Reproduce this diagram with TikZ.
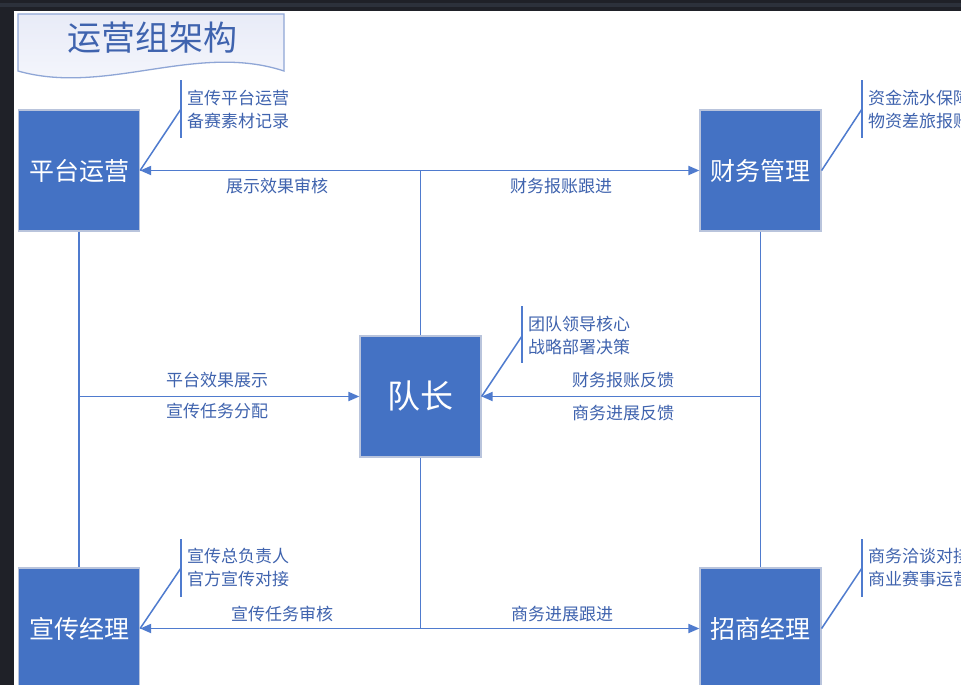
\documentclass[tikz,border=0pt]{standalone}
\usepackage{fontspec}
\newfontfamily\cjk{Noto Sans CJK SC}
\usetikzlibrary{arrows.meta}
\definecolor{boxblue}{HTML}{4472C4}
\definecolor{lineblue}{HTML}{4F7BCE}
\definecolor{txtblue}{HTML}{3F63AE}
\definecolor{boxedge}{HTML}{B9C4DC}
\definecolor{darkbg}{HTML}{1F2128}
\definecolor{darkline}{HTML}{2C313B}
\definecolor{bannertop}{HTML}{E8EBF7}
\definecolor{bannerbot}{HTML}{F7F8FD}
\definecolor{banneredge}{HTML}{8FA6D6}
\begin{document}
\begin{tikzpicture}[x=1pt,y=-1pt,
  rolebox/.style={draw=boxedge, line width=1.2pt, fill=boxblue, minimum width=121pt, minimum height=121pt, inner sep=0pt, text=white, font=\cjk\fontsize{25}{29}\selectfont},
  link/.style={draw=lineblue, line width=1.8pt},
  arrowlink/.style={link, -{Triangle[length=11pt,width=9pt]}},
  flowlabel/.style={text=txtblue, font=\cjk\fontsize{17}{20}\selectfont, inner sep=0pt},
  notetext/.style={text=txtblue, font=\cjk\fontsize{17}{23}\selectfont, align=left, anchor=west, inner sep=0pt},
  callout/.style={draw=lineblue, line width=1.5pt}]
\useasboundingbox (0,0) rectangle (961,685);
\clip (0,0) rectangle (961,685);
% screenshot frame
\fill[darkbg] (0,0) rectangle (961,685);
\fill[darkline] (0,3) rectangle (961,7);
\fill[white] (14,11) rectangle (961,685);
% title banner
\path[draw=banneredge, line width=1.3pt, top color=bannertop, bottom color=bannerbot]
  (18,14) -- (284,14) -- (284,71) .. controls (196,42) and (106,96) .. (18,71) -- cycle;
\node[text=txtblue, font=\cjk\fontsize{34}{40}\selectfont, inner sep=0pt] (title) at (152,38) {运营组架构};
% role boxes
\node[rolebox] (plat) at (79,170.5) {平台运营};
\node[rolebox] (fin) at (760.5,170.5) {财务管理};
\node[rolebox, font=\cjk\fontsize{33}{37}\selectfont] (cap) at (420.5,396.5) {队长};
\node[rolebox] (prop) at (79,628.5) {宣传经理};
\node[rolebox] (biz) at (760.5,628.5) {招商经理};
% junctions
\coordinate (topj) at (cap.north |- plat.east);
\coordinate (botj) at (cap.south |- prop.east);
\coordinate (leftj) at (plat.south |- cap.west);
\coordinate (rightj) at (fin.south |- cap.east);
% connectors
\draw[link] (cap.north) -- (topj);
\draw[arrowlink] (topj) -- (plat.east);
\draw[arrowlink] (topj) -- (fin.west);
\draw[link] (cap.south) -- (botj);
\draw[arrowlink] (botj) -- (prop.east);
\draw[arrowlink] (botj) -- (biz.west);
\draw[link] (plat.south) -- (prop.north);
\draw[arrowlink] (leftj) -- (cap.west);
\draw[link] (fin.south) -- (biz.north);
\draw[arrowlink] (rightj) -- (cap.east);
% connector labels
\node[flowlabel] (l1) at (277,186) {展示效果审核};
\node[flowlabel] (l2) at (561,186) {财务报账跟进};
\node[flowlabel] (l3) at (217,380) {平台效果展示};
\node[flowlabel] (l4) at (217,411) {宣传任务分配};
\node[flowlabel] (l5) at (623,380) {财务报账反馈};
\node[flowlabel] (l6) at (623,413) {商务进展反馈};
\node[flowlabel] (l7) at (282,614) {宣传任务审核};
\node[flowlabel] (l8) at (562,614) {商务进展跟进};
% callouts
\coordinate (c1t) at (181,80); \coordinate (c1b) at (181,138); \coordinate (c1m) at (181,109);
\draw[callout] (c1t) -- (c1b); \draw[callout] (c1m) -- (plat.east);
\node[notetext] (n1) at (187,109.5) {宣传平台运营\\备赛素材记录};
\coordinate (c2t) at (862,80); \coordinate (c2b) at (862,138); \coordinate (c2m) at (862,109);
\draw[callout] (c2t) -- (c2b); \draw[callout] (c2m) -- (fin.east);
\node[notetext] (n2) at (868,109.5) {资金流水保障\\物资差旅报账};
\coordinate (c3t) at (522,306); \coordinate (c3b) at (522,363); \coordinate (c3m) at (522,336);
\draw[callout] (c3t) -- (c3b); \draw[callout] (c3m) -- (cap.east);
\node[notetext] (n3) at (528,335.5) {团队领导核心\\战略部署决策};
\coordinate (c4t) at (181,539); \coordinate (c4b) at (181,597); \coordinate (c4m) at (181,568);
\draw[callout] (c4t) -- (c4b); \draw[callout] (c4m) -- (prop.east);
\node[notetext] (n4) at (187,567.5) {宣传总负责人\\官方宣传对接};
\coordinate (c5t) at (862,539); \coordinate (c5b) at (862,597); \coordinate (c5m) at (862,568);
\draw[callout] (c5t) -- (c5b); \draw[callout] (c5m) -- (biz.east);
\node[notetext] (n5) at (868,567.5) {商务洽谈对接\\商业赛事运营};
\end{tikzpicture}
\end{document}
